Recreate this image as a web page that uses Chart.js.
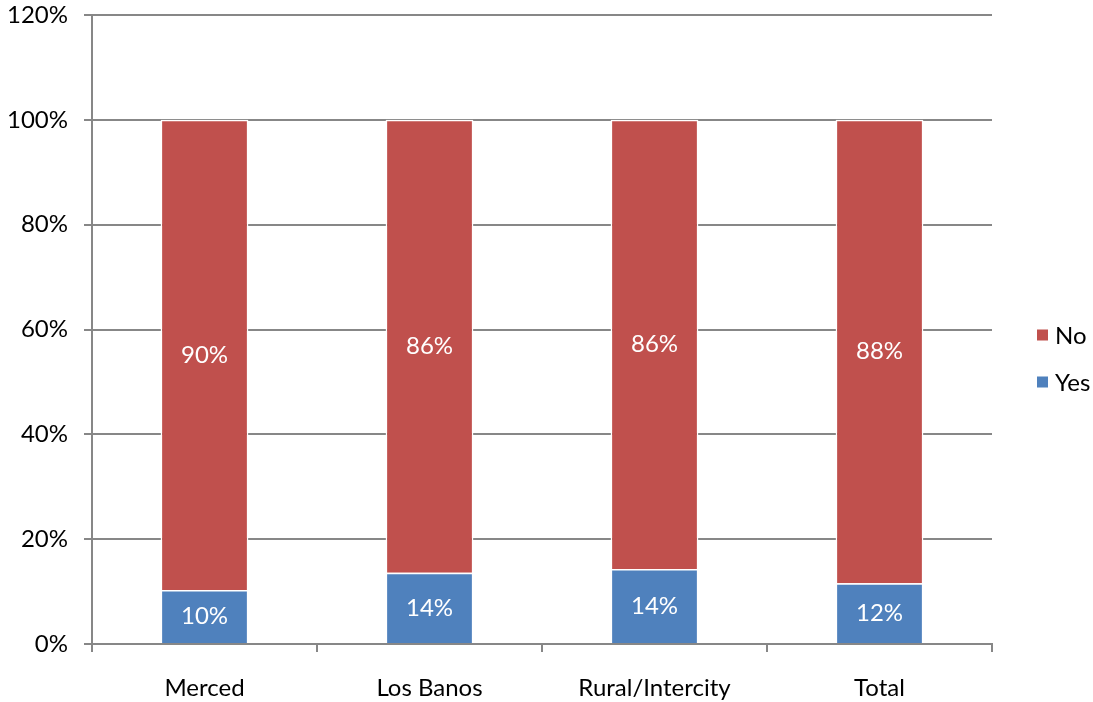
<!DOCTYPE html>
<html>
<head>
<meta charset="utf-8">
<script src="https://cdn.jsdelivr.net/npm/chart.js@4/dist/chart.umd.min.js"></script>
<style>
html,body{margin:0;padding:0;background:#fff;}
#wrap{width:1093px;height:702px;position:relative;}
</style>
</head>
<body>
<div id="wrap"><canvas id="c" width="1093" height="702"></canvas></div>
<script>
const categories = ['Merced', 'Los Banos', 'Rural/Intercity', 'Total'];
const yesValues = [10.3, 13.6, 14.3, 11.6];
const noValues = [89.7, 86.4, 85.7, 88.4];
const yTicks = [0, 20, 40, 60, 80, 100, 120];

const FONT = 'Lato, "Open Sans", sans-serif';
const FS = 24;
const GRID = '#878787';

const valueLabels = {
  id: 'valueLabels',
  afterDatasetsDraw(chart) {
    const ctx = chart.ctx;
    ctx.save();
    ctx.fillStyle = '#ffffff';
    ctx.font = FS + 'px ' + FONT;
    ctx.textAlign = 'center';
    ctx.textBaseline = 'middle';
    chart.data.datasets.forEach((ds, di) => {
      const meta = chart.getDatasetMeta(di);
      meta.data.forEach((el, i) => {
        const cy = (el.y + el.base) / 2;
        ctx.fillText(Math.round(ds.data[i]) + '%', el.x, cy);
      });
    });
    ctx.restore();
  }
};

const sideLegend = {
  id: 'sideLegend',
  afterDraw(chart) {
    const ctx = chart.ctx;
    const a = chart.chartArea;
    const items = chart.data.datasets.slice().reverse();
    const x0 = a.right + 45;
    const yStart = a.top + 320;
    ctx.save();
    ctx.font = FS + 'px ' + FONT;
    ctx.textBaseline = 'middle';
    ctx.textAlign = 'left';
    items.forEach((ds, k) => {
      const cy = yStart + k * 47;
      ctx.fillStyle = ds.backgroundColor;
      ctx.fillRect(x0, cy - 5.5, 11, 11);
      ctx.fillStyle = '#000';
      ctx.fillText(ds.label, x0 + 18, cy + 1);
    });
    ctx.restore();
  }
};

new Chart(document.getElementById('c'), {
  type: 'bar',
  data: {
    labels: categories,
    datasets: [
      { label: 'Yes', data: yesValues, backgroundColor: '#4F81BD', borderColor: '#ffffff', borderWidth: 1.5 },
      { label: 'No', data: noValues, backgroundColor: '#C0504D', borderColor: '#ffffff', borderWidth: 1.5 }
    ]
  },
  options: {
    responsive: false,
    animation: false,
    devicePixelRatio: 1,
    layout: { padding: { top: 15, right: 101, left: 0, bottom: 0 } },
    datasets: { bar: { barPercentage: 0.39, categoryPercentage: 1 } },
    plugins: {
      legend: { display: false },
      tooltip: { enabled: false }
    },
    scales: {
      x: {
        stacked: true,
        afterFit: s => { s.height = 58; },
        grid: { display: true, offset: true, drawOnChartArea: false, drawTicks: true, tickLength: 8, color: GRID, lineWidth: 2 },
        border: { display: true, color: GRID, width: 2 },
        ticks: { color: '#000', font: { family: FONT, size: FS }, padding: 22, maxRotation: 0 }
      },
      y: {
        stacked: true,
        min: 0, max: 120,
        afterFit: s => { s.width = 92; s.paddingTop = 0; s.paddingBottom = 0; },
        afterBuildTicks: s => { s.ticks = yTicks.map(v => ({ value: v })); },
        grid: { color: GRID, lineWidth: 2, drawTicks: true, tickLength: 8 },
        border: { display: true, color: GRID, width: 2 },
        ticks: { color: '#000', font: { family: FONT, size: FS }, padding: 16, callback: v => v + '%' }
      }
    }
  },
  plugins: [valueLabels, sideLegend]
});
</script>
</body>
</html>
